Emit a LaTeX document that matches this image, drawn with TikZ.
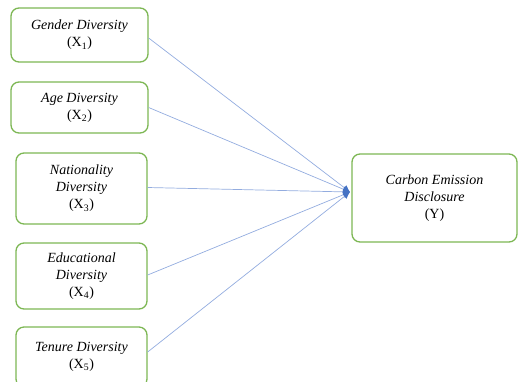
\documentclass[tikz,border=0pt]{standalone}
\usepackage{fontspec}
\setmainfont{Liberation Serif}
\usetikzlibrary{arrows.meta,calc}
\definecolor{boxgreen}{HTML}{7DB754}
\definecolor{linkblue}{HTML}{93ACDF}
\definecolor{tipblue}{HTML}{4472C4}
\begin{document}
\begin{tikzpicture}[x=1pt,y=-1pt,
  vbox/.style={draw=boxgreen,line width=1.3pt,rounded corners=8pt,fill=white,
    align=center,inner sep=0pt,font=\fontsize{14}{17}\selectfont},
  link/.style={draw=linkblue,line width=0.7pt,-{Latex[length=7pt,width=6.5pt,color=tipblue]}}]
\useasboundingbox (0,0) rectangle (518,381);
\node[vbox,minimum width=137pt,minimum height=54pt] (b1) at (79.5,35) {\textit{Gender Diversity}\\(X\textsubscript{1})};
\node[vbox,minimum width=137pt,minimum height=51pt] (b2) at (79.5,107.5) {\textit{Age Diversity}\\(X\textsubscript{2})};
\node[vbox,minimum width=131pt,minimum height=71pt] (b3) at (81.5,188.5) {\textit{Nationality}\\\textit{Diversity}\\(X\textsubscript{3})};
\node[vbox,minimum width=131pt,minimum height=66pt] (b4) at (81.5,276) {\textit{Educational}\\\textit{Diversity}\\(X\textsubscript{4})};
\node[vbox,minimum width=131pt,minimum height=60pt] (b5) at (81.5,357) {\textit{Tenure Diversity}\\(X\textsubscript{5})};
\node[vbox,minimum width=165pt,minimum height=88pt] (y) at (434.5,198) {\textit{Carbon Emission}\\\textit{Disclosure}\\(Y)};
\coordinate (t) at (350,192);
\draw[link] ($(b1.east)+(0,3)$) -- (t);
\draw[link] (b2.east) -- (t);
\draw[link] ($(b3.east)+(0,-1)$) -- (t);
\draw[link] ($(b4.east)+(0,-1)$) -- (t);
\draw[link] ($(b5.east)+(0,-5)$) -- (t);
\end{tikzpicture}
\end{document}
